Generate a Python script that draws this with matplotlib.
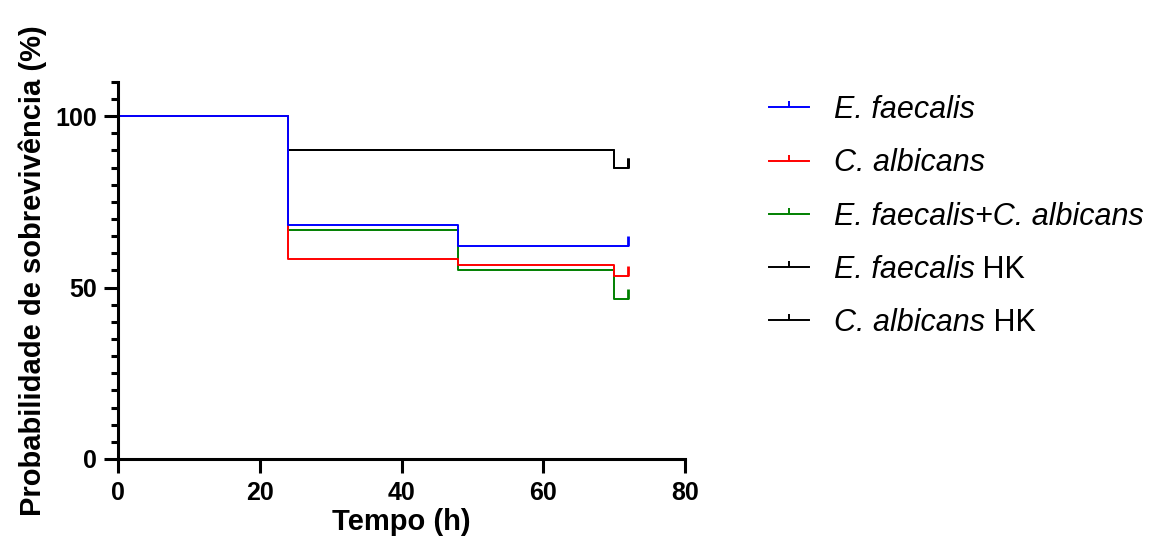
import matplotlib
matplotlib.use('Agg')
import matplotlib.pyplot as plt
from matplotlib.lines import Line2D

plt.rcParams['font.family'] = ['Liberation Sans', 'DejaVu Sans']

# survival curves (time in h, survival %)
labels = ['E. faecalis', 'C. albicans', 'E. faecalis+C. albicans',
          'E. faecalis', 'C. albicans']
suffixes = ['', '', '', ' HK', ' HK']
colors = ['#0000ff', '#ff0000', '#008000', '#000000', '#000000']

ef_t = [0, 24, 48, 72]
ef_s = [100, 68.3, 62.0, 62.0]
ca_t = [0, 24, 48, 70, 72]
ca_s = [100, 58.3, 56.7, 53.3, 53.3]
mix_t = [0, 24, 48, 70, 72]
mix_s = [100, 66.7, 55.0, 46.7, 46.7]
efhk_t = [0, 24, 70, 72]
efhk_s = [100, 90.0, 85.0, 85.0]
cahk_t = [0, 24, 70, 72]
cahk_s = [100, 90.0, 85.0, 85.0]

times = [ef_t, ca_t, mix_t, efhk_t, cahk_t]
surv = [ef_s, ca_s, mix_s, efhk_s, cahk_s]

censor = [(0, 0), (0, 1)]

fig = plt.figure(figsize=(11.71, 5.53), dpi=100)
ax = fig.add_axes([0.1008, 0.17, 0.4842, 0.682])

# draw in reverse so blue ends on top
for i in reversed(range(len(times))):
    ax.step(times[i], surv[i], where='post', color=colors[i], lw=1.4)
    ax.plot(times[i][-1], surv[i][-1], marker=censor, markersize=14,
            color=colors[i], mew=2, ls='none')

ax.set_xlim(0, 80)
ax.set_ylim(0, 110)
ax.set_xticks([0, 20, 40, 60, 80])
ax.set_yticks([0, 50, 100])
ax.set_yticks(range(0, 111, 5), minor=True)
for s in ['top', 'right']:
    ax.spines[s].set_visible(False)
for s in ['left', 'bottom']:
    ax.spines[s].set_linewidth(2.2)
ax.tick_params(axis='both', which='major', length=10, width=2.2,
               labelsize=18)
ax.tick_params(axis='x', which='major', pad=6)
ax.tick_params(axis='y', which='major', pad=5)
ax.tick_params(axis='y', which='minor', length=5, width=2.2)
for lab in ax.get_xticklabels() + ax.get_yticklabels():
    lab.set_fontweight('bold')

ax.set_xlabel('Tempo (h)', fontsize=21, fontweight='bold', labelpad=2)
ax.set_ylabel('Probabilidade de sobrevivência (%)', fontsize=21,
              fontweight='bold', labelpad=6)

handles = [Line2D([0], [0], color=c, lw=1.4, marker=censor, markersize=8,
                  mew=1.4) for c in colors]
leg = fig.legend(handles, labels, loc='upper left',
                 bbox_to_anchor=(0.657, 0.828), frameon=False,
                 borderpad=0, borderaxespad=0,
                 prop={'size': 22, 'style': 'italic'},
                 handlelength=1.3, handletextpad=0.8, labelspacing=0.76)

# upright "HK" after the italic species names
fig.canvas.draw()
renderer = fig.canvas.get_renderer()
for txt, suf in zip(leg.get_texts(), suffixes):
    if suf:
        bb = txt.get_window_extent(renderer)
        fx, fy = fig.transFigure.inverted().transform((bb.x1, bb.y0))
        fig.text(fx, fy, suf, fontsize=22, va='bottom',
                 transform=fig.transFigure)

fig.savefig('out.png', dpi=100)
